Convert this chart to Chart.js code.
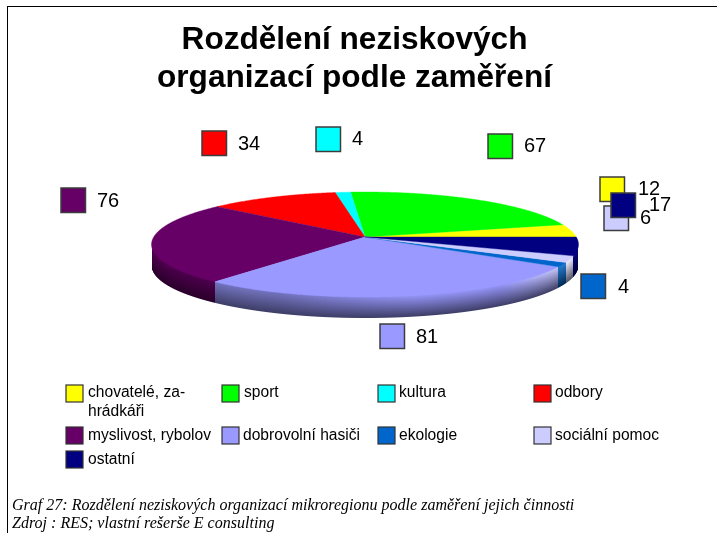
<!DOCTYPE html>
<html><head><meta charset="utf-8">
<style>
html,body{margin:0;padding:0;background:#fff;width:717px;height:533px;overflow:hidden}
#frame{position:absolute;left:7px;top:6px;width:710px;height:527px;border-left:1px solid #000;border-top:1px solid #000;box-sizing:border-box}
canvas{position:absolute;left:0;top:0}
</style>
<script src="https://cdn.jsdelivr.net/npm/chart.js@4"></script>
</head><body>
<div id="frame"></div>
<canvas id="c" width="709" height="533"></canvas>
<script>
const categories = ["chovatelé, za-\nhrádkáři","sport","kultura","odbory","myslivost, rybolov","dobrovolní hasiči","ekologie","sociální pomoc","ostatní"];
const values = [12,67,4,34,76,81,4,6,17];
const colors = ["#ffff00","#00ff00","#00ffff","#ff0000","#660066","#9999ff","#0066cc","#ccccff","#000080"];
const titleLines = ["Rozdělení neziskových","organizací podle zaměření"];
const captionLines = ["Graf 27: Rozdělení neziskových organizací mikroregionu podle zaměření jejich činnosti","Zdroj : RES; vlastní rešerše E consulting"];

// layout only
const SANS = '"Liberation Sans"', SERIF = '"Liberation Serif"';
const labelBoxes = [[600,177],[488,134],[316,127],[202,131],[61,188],[380,324],[581,274],[604,206],[611,193]];
const labelText  = [[638,189],[524,146],[352,139],[238,144],[97,201],[416,337],[618,287],[640,218],[649,205]];
const legendBoxes = [[66,385],[222,385],[378,385],[534,385],[66,427],[222,427],[378,427],[534,427],[66,451]];
const legendText  = [[88,393],[244,393],[399,393],[555,393],[88,436],[243,436],[399,436],[555,436],[88,460]];
const P = {x0:365,y0:237,A:211.3,B:51.43,k:1/7,depth:21};

function project(th){
  const u=Math.cos(th), v=-Math.sin(th), d=1-P.k*v;
  return [P.x0+P.A*u/d, P.y0+P.B*v/d, u, v];
}
function rgb(h){return [1,3,5].map(i=>parseInt(h.substr(i,2),16));}
function css(c){return `rgb(${c.map(x=>Math.round(x)).join(",")})`;}

const pie3d = {
  id:"pie3d",
  beforeDatasetDraw(chart,args){
    const ctx=chart.ctx, arcs=chart.getDatasetMeta(0).data, STEP=Math.PI/360;
    ctx.save();
    // side wall, one pixel column at a time, front half of the rim only
    const lo=Math.PI+Math.asin(P.k), hi=2*Math.PI-Math.asin(P.k);
    const xMin=Math.ceil(project(lo)[0]), xMax=Math.floor(project(hi)[0]);
    for(let x=xMin;x<xMax;x++){
      let a=lo,b=hi;
      for(let n=0;n<30;n++){const m=(a+b)/2; if(project(m)[0]<x+0.5) a=m; else b=m;}
      const mid=project(a);
      const i=arcs.findIndex(e=>a>=e.startAngle&&a<e.endAngle);
      if(i<0) continue;
      const c=rgb(colors[i]), lum=(c[0]+c[1]+c[2])/765;
      const f=mid[2]<-0.35?0.75:(mid[2]<0.2?0.75+0.22*(mid[2]+0.35)/0.55:0.97);
      const w=Math.max(0,1-Math.abs(mid[2]-0.87)/0.3)*lum*lum;
      const g=ctx.createLinearGradient(0,mid[1],0,mid[1]+P.depth);
      g.addColorStop(0,css(c.map(ch=>ch*f*(1-w)+255*w)));
      g.addColorStop(1,css(c.map(ch=>ch*0.4)));
      ctx.fillStyle=g;
      ctx.fillRect(x,mid[1]-1,1,P.depth+1);
    }
    // top face
    arcs.forEach((a,i)=>{
      ctx.beginPath();ctx.moveTo(P.x0,P.y0);
      for(let t=a.startAngle;t<a.endAngle;t+=STEP){const p=project(t);ctx.lineTo(p[0],p[1]);}
      const e=project(a.endAngle);ctx.lineTo(e[0],e[1]);ctx.closePath();
      ctx.fillStyle=colors[i];ctx.strokeStyle=colors[i];ctx.lineWidth=0.4;
      ctx.fill();ctx.stroke();
    });
    ctx.restore();
    return false;
  },
  afterDraw(chart){
    const ctx=chart.ctx;
    ctx.save();
    ctx.textBaseline="middle";ctx.textAlign="left";
    // data labels
    values.forEach((v,i)=>{
      const b=labelBoxes[i];
      ctx.fillStyle=colors[i];ctx.strokeStyle="#3c3c3c";ctx.lineWidth=1.5;
      ctx.fillRect(b[0],b[1],24.5,24.5);ctx.strokeRect(b[0],b[1],24.5,24.5);
    });
    ctx.font=`20px ${SANS}`;ctx.fillStyle="#000";
    values.forEach((v,i)=>ctx.fillText(String(v),labelText[i][0],labelText[i][1]));
    // legend
    categories.forEach((n,i)=>{
      const b=legendBoxes[i],t=legendText[i];
      ctx.fillStyle=colors[i];ctx.strokeStyle="#333";ctx.lineWidth=1.2;
      ctx.fillRect(b[0],b[1],17,17);ctx.strokeRect(b[0],b[1],17,17);
      ctx.fillStyle="#000";ctx.font=`15.6px ${SANS}`;
      n.split("\n").forEach((l,j)=>ctx.fillText(l,t[0],t[1]+j*18.5));
    });
    // caption
    ctx.font=`italic 16.05px ${SERIF}`;ctx.textBaseline="alphabetic";
    captionLines.forEach((l,j)=>ctx.fillText(l,12,510+j*18));
    ctx.restore();
  }
};

new Chart(document.getElementById("c"),{
  type:"doughnut",
  data:{labels:categories,datasets:[{data:values,backgroundColor:colors,borderWidth:0}]},
  options:{
    responsive:false,animation:false,cutout:0,rotation:90,
    events:[],
    plugins:{
      legend:{display:false},tooltip:{enabled:false},
      title:{display:true,text:titleLines,color:"#000",
        font:{family:SANS,size:31.6,weight:"bold",lineHeight:1.2},padding:{top:21,bottom:0}}
    }
  },
  plugins:[pie3d]
});
</script>
</body></html>
